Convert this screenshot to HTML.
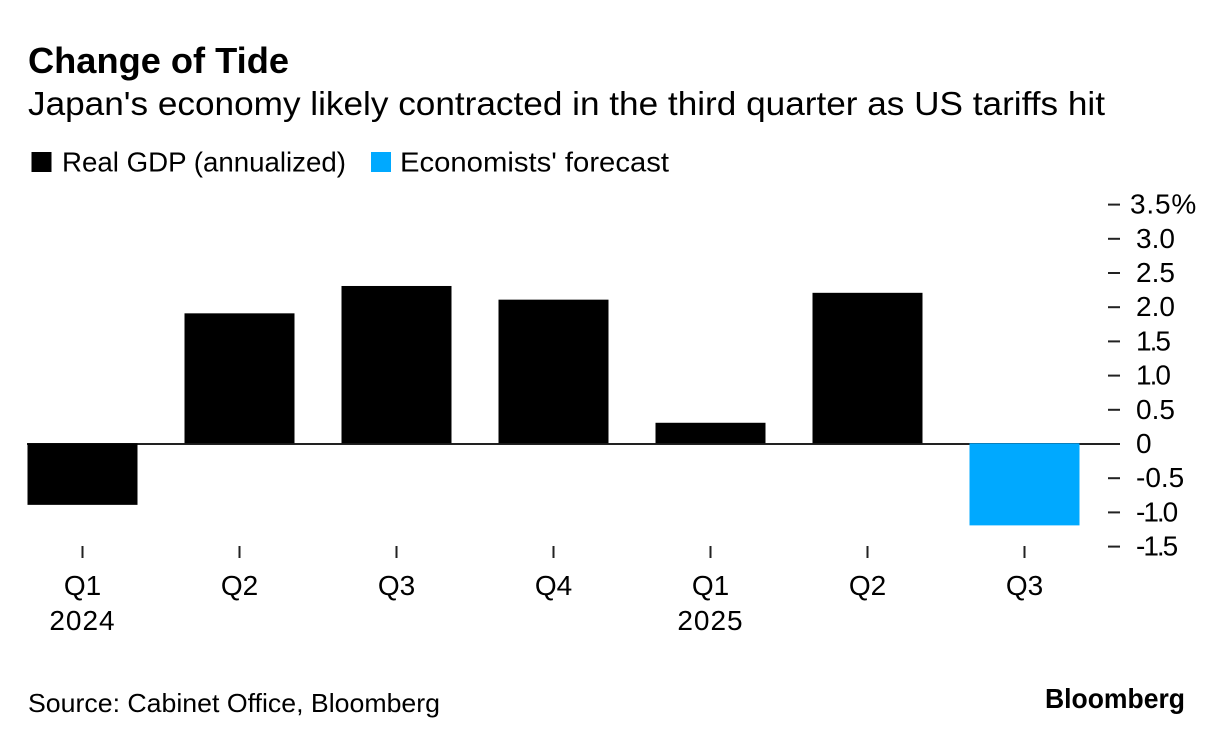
<!DOCTYPE html>
<html lang="en">
<head>
<meta charset="utf-8">
<title>Change of Tide</title>
<style>
html,body{margin:0;padding:0;background:#fff;}
body{width:1223px;height:744px;overflow:hidden;}
svg{display:block;font-family:"Liberation Sans",sans-serif;fill:#000;}
</style>
</head>
<body>
<svg id="chart" width="1223" height="744" viewBox="0 0 1223 744" xmlns="http://www.w3.org/2000/svg">
  <rect width="1223" height="744" fill="#fff"/>
  <text x="28" y="73" font-size="36" font-weight="700" textLength="261" lengthAdjust="spacingAndGlyphs">Change of Tide</text>
  <text x="28" y="115" font-size="33" textLength="1077" lengthAdjust="spacingAndGlyphs">Japan's economy likely contracted in the third quarter as US tariffs hit</text>
  <g>
    <rect x="31.5" y="152" width="20" height="20" fill="#000"/>
    <text x="62" y="171.5" font-size="28" textLength="284" lengthAdjust="spacingAndGlyphs">Real GDP (annualized)</text>
    <rect x="371" y="152" width="20" height="20" fill="#00a9ff"/>
    <text x="400" y="171.5" font-size="28" textLength="269" lengthAdjust="spacingAndGlyphs">Economists' forecast</text>
  </g>
  <g id="x-axis"></g>
  <g id="y-axis"></g>
  <g id="bars"></g>
  <text x="28" y="712" font-size="26" textLength="412" lengthAdjust="spacingAndGlyphs">Source: Cabinet Office, Bloomberg</text>
  <text x="1045" y="708" font-size="28" font-weight="700" textLength="140" lengthAdjust="spacingAndGlyphs">Bloomberg</text>
</svg>
<script>
const quarters = ["Q1", "Q2", "Q3", "Q4", "Q1", "Q2", "Q3"];
const years = ["2024", "", "", "", "2025", "", ""];
const gdpValues = [-0.9, 1.9, 2.3, 2.1, 0.3, 2.2, -1.2];
const forecastFlags = [false, false, false, false, false, false, true];
const yTicks = [3.5, 3.0, 2.5, 2.0, 1.5, 1.0, 0.5, 0, -0.5, -1.0, -1.5];
const yTickLabels = ["3.5%", "3.0", "2.5", "2.0", "1.5", "1.0", "0.5", "0", "-0.5", "-1.0", "-1.5"];

const SVG_NS = "http://www.w3.org/2000/svg";
function yScale(v) { return 443.3 - v * 68.4; }
function xCenter(i) { return 82.5 + i * 157; }
const barWidth = 110;

function make(tag, attrs, parent) {
  const el = document.createElementNS(SVG_NS, tag);
  for (const k in attrs) el.setAttribute(k, attrs[k]);
  parent.appendChild(el);
  return el;
}

const barsG = document.getElementById("bars");
const xG = document.getElementById("x-axis");
const yG = document.getElementById("y-axis");

quarters.forEach(function (q, i) {
  const tick = make("line", { x1: xCenter(i), x2: xCenter(i), y1: 546, y2: 558, stroke: "#222", "stroke-width": 2 }, xG);
  
  
  const label = make("text", { x: xCenter(i), y: 595, "font-size": 28, "text-anchor": "middle" }, xG);
  label.textContent = q;
  
  
  if (years[i]) {
    const yearLabel = make("text", { x: xCenter(i), y: 630, "font-size": 28, "letter-spacing": 1, "text-anchor": "middle" }, xG);
    yearLabel.textContent = years[i];
    
    
  }
});

const zeroLine = make("line", { x1: 27, x2: 1120, y1: yScale(0) + 0.7, y2: yScale(0) + 0.7, stroke: "#222", "stroke-width": 2 }, yG);



yTicks.forEach(function (t, i) {
  if (t !== 0) {
    const tick = make("line", { x1: 1108, x2: 1120, y1: yScale(t) + 0.7, y2: yScale(t) + 0.7, stroke: "#222", "stroke-width": 2 }, yG);
    
    
  }
  const hasUnit = yTickLabels[i].indexOf("%") !== -1;
  const label = make("text", { x: hasUnit ? 1130 : 1136, y: yScale(t) + 9.7, "font-size": 28 }, yG);
  if (hasUnit) label.setAttribute("letter-spacing", "0.8");
  if (yTickLabels[i].indexOf("1") !== -1) label.setAttribute("letter-spacing", "-2");
  label.textContent = yTickLabels[i];
  
  
});

gdpValues.forEach(function (v, i) {
  const top = Math.min(yScale(v), yScale(0));
  const h = Math.abs(yScale(v) - yScale(0));
  const bar = make("rect", { x: xCenter(i) - barWidth / 2, y: top, width: barWidth, height: h, fill: forecastFlags[i] ? "#00a9ff" : "#000" }, barsG);
  
  
});
</script>
</body>
</html>
